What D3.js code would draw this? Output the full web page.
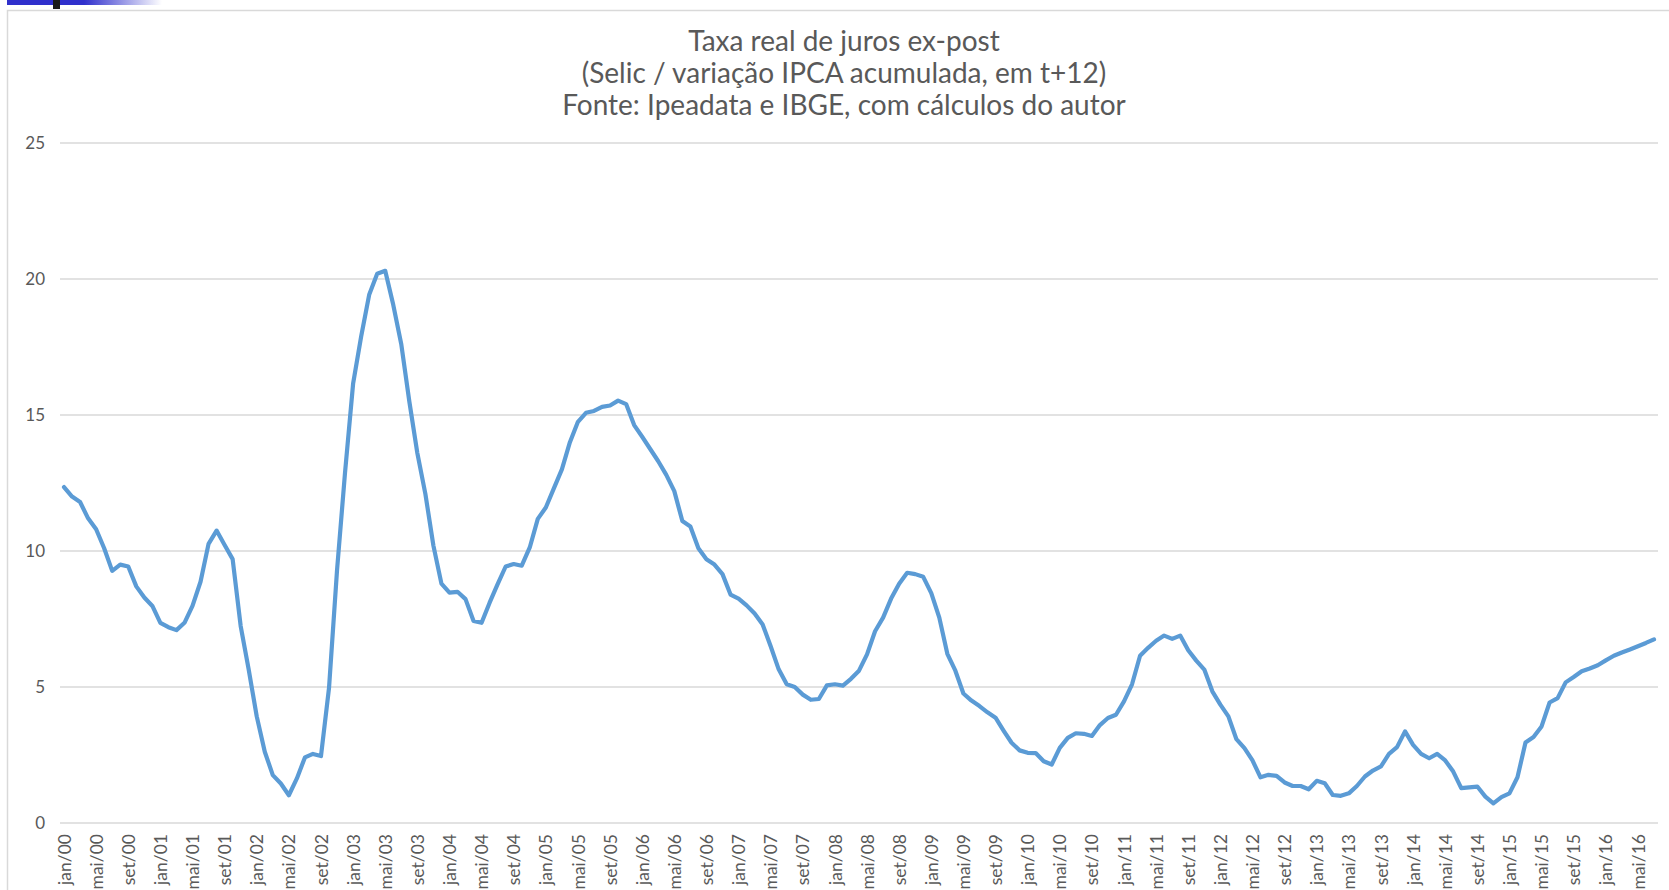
<!doctype html>
<html>
<head>
<meta charset="utf-8">
<script src="https://d3js.org/d3.v7.min.js"></script>
<style>
  body { margin: 0; background: #fff; }
  svg { display: block; }
  .lbl { font-family: Lato, "Open Sans", sans-serif; fill: #595959; }
</style>
</head>
<body>
<svg id="chart" width="1669" height="890"></svg>
<script>

// month names used for the category axis
var monthNames = ["jan","fev","mar","abr","mai","jun","jul","ago","set","out","nov","dez"];

// real interest rate, monthly, jan/00 .. jul/16
var rates = [
  12.35, 12.0, 11.8, 11.2, 10.8, 10.1, 9.27, 9.5, 9.43, 8.7, 8.29, 7.98,
  7.36, 7.2, 7.09, 7.36, 7.98, 8.87, 10.26, 10.75, 10.22, 9.7, 7.24, 5.64,
  3.92, 2.62, 1.76, 1.45, 1.02, 1.64, 2.41, 2.54, 2.46, 4.96, 9.3, 12.9,
  16.15, 17.88, 19.42, 20.19, 20.3, 19.05, 17.6, 15.5, 13.6, 12.1, 10.2, 8.8,
  8.47, 8.5, 8.23, 7.43, 7.36, 8.1, 8.78, 9.43, 9.52, 9.46, 10.13, 11.18,
  11.6, 12.3, 13.0, 14.0, 14.75, 15.08, 15.15, 15.3, 15.35, 15.53, 15.4, 14.63,
  14.2, 13.75, 13.3, 12.8, 12.2, 11.1, 10.9, 10.1, 9.7, 9.5, 9.15, 8.4,
  8.25, 8.0, 7.7, 7.3, 6.5, 5.65, 5.1, 5.0, 4.72, 4.53, 4.56, 5.06,
  5.1, 5.05, 5.3, 5.6, 6.2, 7.05, 7.55, 8.25, 8.8, 9.2, 9.15, 9.05,
  8.45, 7.55, 6.22, 5.6, 4.76, 4.5, 4.3, 4.07, 3.87, 3.4, 2.95, 2.67,
  2.58, 2.57, 2.27, 2.15, 2.76, 3.13, 3.3, 3.28, 3.2, 3.6, 3.86, 3.98,
  4.47, 5.1, 6.15, 6.44, 6.7, 6.89, 6.77, 6.89, 6.35, 5.97, 5.64, 4.84,
  4.35, 3.92, 3.08, 2.75, 2.3, 1.68, 1.77, 1.73, 1.49, 1.36, 1.36, 1.24,
  1.55, 1.46, 1.03, 1.0, 1.09, 1.36, 1.71, 1.93, 2.08, 2.54, 2.79, 3.37,
  2.87, 2.54, 2.38, 2.54, 2.3, 1.89, 1.28, 1.31, 1.34, 0.97, 0.72, 0.95,
  1.09, 1.68, 2.96, 3.16, 3.55, 4.43, 4.59, 5.17, 5.37, 5.58, 5.68, 5.8,
  5.98, 6.15, 6.27, 6.38, 6.5, 6.62, 6.75
];

var months = rates.map(function(d, i) {
  var yy = String(i / 12 | 0).padStart(2, "0");
  return monthNames[i % 12] + "/" + yy;
});

var yTicks = [0, 5, 10, 15, 20, 25];

var titleLines = [
  "Taxa real de juros ex-post",
  "(Selic / variação IPCA acumulada, em t+12)",
  "Fonte: Ipeadata e IBGE, com cálculos do autor"
];

var svg = d3.select("#chart");

// screenshot leftovers at the top left corner
var grad = svg.append("defs").append("linearGradient").attr("id", "fade");
grad.append("stop").attr("offset", "0%").attr("stop-color", "#3030cc");
grad.append("stop").attr("offset", "100%").attr("stop-color", "#ffffff");
svg.append("rect").attr("x", 7).attr("y", 0).attr("width", 77).attr("height", 5).attr("fill", "#3030cc");
svg.append("rect").attr("x", 84).attr("y", 0).attr("width", 78).attr("height", 5).attr("fill", "url(#fade)");
svg.append("rect").attr("x", 53).attr("y", 0).attr("width", 7).attr("height", 9).attr("fill", "#1a1a1a");

// chart frame
svg.append("rect")
   .attr("x", 7.5).attr("y", 10.5)
   .attr("width", 1700).attr("height", 900)
   .attr("fill", "none")
   .attr("stroke", "#d9d9d9")
   .attr("stroke-width", 1.5);

var plotLeft = 60, plotRight = 1658, plotTop = 143, plotBottom = 823;

var x = d3.scalePoint().domain(months).range([plotLeft, plotRight]).padding(0.5);
var y = d3.scaleLinear().domain([0, 25]).range([plotBottom, plotTop]);

// gridlines
svg.append("g")
   .selectAll("line")
   .data(yTicks)
   .enter().append("line")
   .attr("x1", plotLeft).attr("x2", plotRight)
   .attr("y1", function(d) { return y(d); })
   .attr("y2", function(d) { return y(d); })
   .attr("stroke", "#d9d9d9")
   .attr("stroke-width", 1.3);

// y axis labels
var yAxis = svg.append("g")
   .attr("transform", "translate(45,0)")
   .call(d3.axisLeft(y).tickValues(yTicks).tickSize(0).tickPadding(0));
yAxis.select(".domain").remove();
yAxis.selectAll("text")
   .attr("class", "lbl")
   .attr("font-size", "17px")
   .attr("fill", "#666");

// x axis labels, every 4 months, rotated
var xAxis = svg.append("g")
   .attr("transform", "translate(0," + plotBottom + ")")
   .call(d3.axisBottom(x)
     .tickValues(months.filter(function(d, i) { return i % 4 === 0; }))
     .tickSize(0));
xAxis.select(".domain").remove();
xAxis.selectAll("text")
   .attr("class", "lbl")
   .attr("font-size", "17.5px")
   .attr("fill", "#595959")
   .attr("text-anchor", "end")
   .attr("transform", "rotate(-90)")
   .attr("x", -11)
   .attr("y", 0)
   .attr("dy", "0.35em");

// the series
svg.append("path")
   .datum(rates)
   .attr("d", d3.line()
     .x(function(d, i) { return x(months[i]); })
     .y(function(d) { return y(d); }))
   .attr("fill", "none")
   .attr("stroke", "#5b9bd5")
   .attr("stroke-width", 4.2)
   .attr("stroke-linejoin", "round")
   .attr("stroke-linecap", "round");

// title
svg.append("g")
   .selectAll("text")
   .data(titleLines)
   .enter().append("text")
   .attr("class", "lbl")
   .attr("x", 844)
   .attr("y", function(d, i) { return 51 + i * 32; })
   .attr("text-anchor", "middle")
   .attr("font-size", "28px")
   .text(function(d) { return d; });

</script>
</body>
</html>
